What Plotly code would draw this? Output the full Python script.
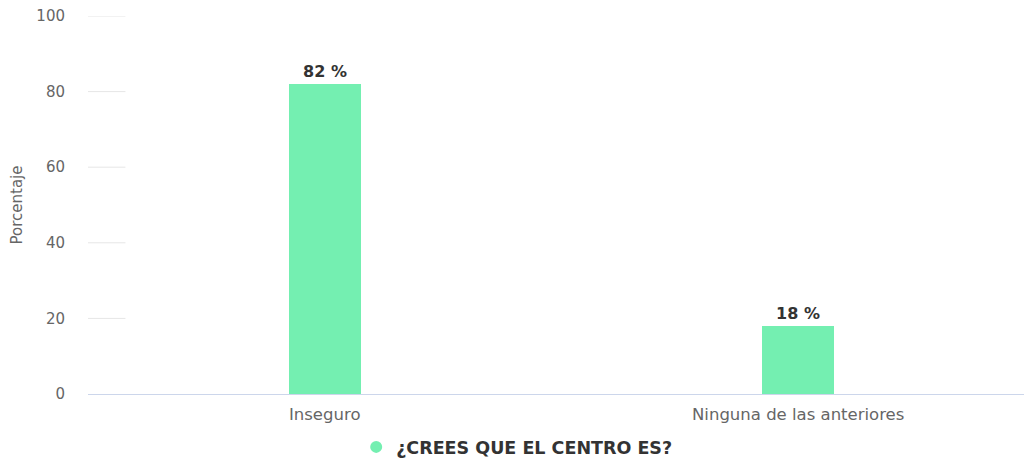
import plotly.graph_objects as go

# Survey answers and their share of responses (%)
categories = ["Inseguro", "Ninguna de las anteriores"]
percentages = [82, 18]
series_name = "¿CREES QUE EL CENTRO ES?"
y_ticks = [0, 20, 40, 60, 80, 100]

bar_color = "#74efb1"
x_pos = list(range(len(categories)))
FONT = "DejaVu Sans, Verdana, sans-serif"

fig = go.Figure()
fig.add_trace(go.Bar(
    x=x_pos,
    y=percentages,
    width=0.152,
    marker=dict(color=bar_color, line=dict(width=0)),
    text=[f"{v} %" for v in percentages],
    textposition="outside",
    textfont=dict(family=FONT, size=16, color="#333333"),
    texttemplate="<b>%{text}</b>",
    cliponaxis=False,
    showlegend=False,
    hoverinfo="skip",
))
# legend entry with a round swatch
fig.add_trace(go.Scatter(
    x=[None], y=[None], mode="markers",
    marker=dict(symbol="circle", size=16, color=bar_color),
    name=f"<b>{series_name}</b>",
    showlegend=True,
))

# short grid ticks at the left edge of the plot
for v in y_ticks[1:]:
    fig.add_shape(type="line", xref="paper", yref="y",
                  x0=0, x1=0.04, y0=v, y1=v,
                  line=dict(color="#e6e6e6", width=1), layer="below")

fig.update_layout(
    width=1024, height=459,
    margin=dict(l=88, r=0, t=16, b=65, autoexpand=False),
    plot_bgcolor="white", paper_bgcolor="white",
    font=dict(family=FONT, color="#666666", size=16),
    xaxis=dict(
        range=[-0.5, 1.477],
        tickmode="array", tickvals=x_pos, ticktext=categories,
        showgrid=False, zeroline=False,
        showline=True, linecolor="#ccd6eb", linewidth=1,
        ticks="", ticklabelstandoff=5,
        tickfont=dict(family=FONT, size=16.5, color="#666666"),
        fixedrange=True,
    ),
    yaxis=dict(
        range=[0, 100],
        tickmode="array", tickvals=y_ticks,
        showgrid=False, zeroline=False, showline=False,
        ticks="", ticklabelstandoff=22,
        tickfont=dict(family=FONT, size=15, color="#666666"),
        title=dict(text="Porcentaje", standoff=10,
                   font=dict(family=FONT, size=15, color="#666666")),
    ),
    legend=dict(
        orientation="h", x=0.458, xanchor="center",
        yref="container", y=12 / 459, yanchor="middle",
        font=dict(family=FONT, size=17.5, color="#333333"),
        itemsizing="constant",
    ),
    bargap=0,
)

fig.write_html("out.html")
